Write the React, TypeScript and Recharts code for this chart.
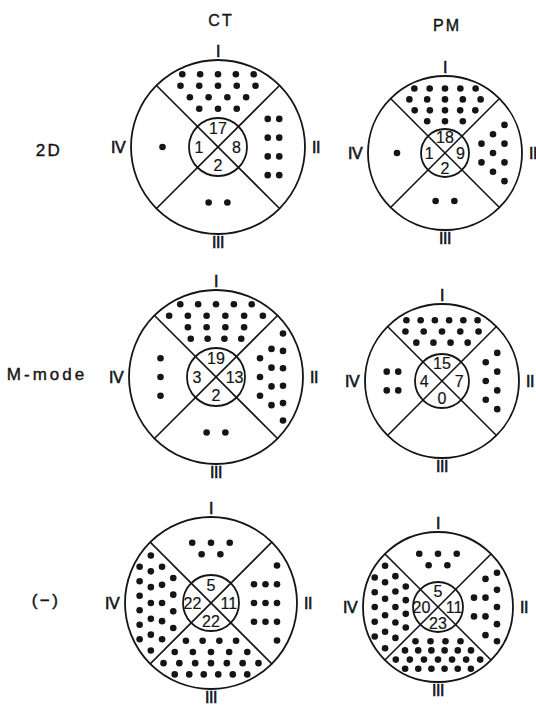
import { ScatterChart, Scatter, XAxis, YAxis, ReferenceDot, ReferenceLine } from "recharts"

const COLUMNS = ['CT', 'PM']
const ROWS = ['2D', 'M-mode', '(−)']
const SEGMENTS = ['I', 'II', 'III', 'IV']

// number of cases per segment, order I, II, III, IV
const CT_2D = [17, 8, 2, 1]
const PM_2D = [18, 9, 2, 1]
const CT_MMODE = [19, 13, 2, 3]
const PM_MMODE = [15, 7, 0, 4]
const CT_NONE = [5, 11, 22, 22]
const PM_NONE = [5, 11, 23, 20]

const COUNTS = [CT_2D, PM_2D, CT_MMODE, PM_MMODE, CT_NONE, PM_NONE]

// wheel geometry (pixels), same order as COUNTS
const WHEELS = [
  { cx: 218, cy: 147, R: 87, r: 29 },
  { cx: 445, cy: 153, R: 77, r: 24 },
  { cx: 216, cy: 377, R: 87, r: 29 },
  { cx: 442, cy: 381, R: 77, r: 27 },
  { cx: 211, cy: 603, R: 86, r: 28 },
  { cx: 438, cy: 607, R: 75, r: 25 },
]
const COLUMN_POS = [{ x: 221, y: 20 }, { x: 447, y: 25 }]
const ROW_POS = [{ x: 49, y: 150 }, { x: 47, y: 374 }, { x: 46, y: 600 }]

// outward direction of each segment: up, right, down, left
const DIRS = [[0, -1], [1, 0], [0, 1], [-1, 0]]

const W = 536
const H = 707
const INK = '#151515'
const FONT = "'Liberation Sans', Arial, sans-serif"

// spread n dots over one quarter ring, in rows across the outward direction
function sectorDots(n: number, R: number, r: number, ux: number, uy: number) {
  if (!n) return []
  const vx = -uy, vy = ux
  for (let f = 1; f > 0.4; f -= 0.025) {
    const dr = 11.5 * f, dl = 15 * f
    const lineM = 13 * f, edgeM = 12 * f
    const d0 = r + 8 * f, dEnd = R - 13 * f
    const half = (d: number) => Math.min(d - lineM, Math.sqrt(R * R - d * d) - edgeM)
    const used: { d: number; cap: number }[] = []
    let total = 0
    for (let d = d0; d <= dEnd + 0.01 && total < n; d += dr) {
      const w = half(d)
      if (w < 0) continue
      const cap = Math.floor((2 * w) / dl) + 1
      used.push({ d, cap })
      total += cap
    }
    if (total < n) continue
    const raw = used.map(u => (u.cap / total) * n)
    const ks = raw.map(Math.floor)
    let left = n - ks.reduce((a, b) => a + b, 0)
    const order = raw.map((v, i) => [v - Math.floor(v), i]).sort((a, b) => b[0] - a[0])
    for (let j = 0; left > 0; j++, left--) ks[order[j % order.length][1]]++
    const shift = (dEnd - used[used.length - 1].d) / 2
    const pts: { x: number; y: number }[] = []
    used.forEach((u, i) => {
      const k = ks[i]
      const d = u.d + shift
      const w = Math.max(half(d), 0)
      const s = k > 1 ? Math.min(dl * 1.25, (2 * w) / (k - 1)) : 0
      for (let j = 0; j < k; j++) {
        const t = (j - (k - 1) / 2) * s
        pts.push({ x: ux * d + vx * t, y: uy * d + vy * t })
      }
    })
    return pts
  }
  return []
}

const dots = COUNTS.flatMap((counts, w) => {
  const { cx, cy, R, r } = WHEELS[w]
  return counts.flatMap((n, s) =>
    sectorDots(n, R, r, DIRS[s][0], DIRS[s][1]).map(p => ({ x: cx + p.x, y: cy + p.y }))
  )
})

const label = (key: string, x: number, y: number, value: string, size = 16, spacing = 0, bold = 0.35) => (
  <ReferenceDot key={key} x={x} y={y} r={0} fill="none" stroke="none" ifOverflow="visible"
    label={{ value, position: 'center', fontSize: size, fill: INK, stroke: INK, strokeWidth: bold, letterSpacing: spacing, fontFamily: FONT }} />
)

export default function App() {
  const k = Math.SQRT1_2
  return (
    <div style={{ position: 'absolute', left: 0, top: 0, background: '#fff', fontFamily: FONT }}>
      <ScatterChart width={W} height={H} margin={{ top: 0, right: 0, bottom: 0, left: 0 }}>
        <XAxis type="number" dataKey="x" domain={[0, W]} hide allowDataOverflow />
        <YAxis type="number" dataKey="y" domain={[0, H]} reversed hide allowDataOverflow />

        {WHEELS.map((g, i) => [
          <ReferenceDot key={`o${i}`} x={g.cx} y={g.cy} r={g.R} fill="none" stroke={INK} strokeWidth={1.8} ifOverflow="visible" />,
          <ReferenceLine key={`a${i}`} ifOverflow="visible" stroke={INK} strokeWidth={1.6}
            segment={[{ x: g.cx - g.R * k, y: g.cy - g.R * k }, { x: g.cx + g.R * k, y: g.cy + g.R * k }]} />,
          <ReferenceLine key={`b${i}`} ifOverflow="visible" stroke={INK} strokeWidth={1.6}
            segment={[{ x: g.cx + g.R * k, y: g.cy - g.R * k }, { x: g.cx - g.R * k, y: g.cy + g.R * k }]} />,
          <ReferenceDot key={`c${i}`} x={g.cx} y={g.cy} r={g.r} fill="none" stroke={INK} strokeWidth={1.8} ifOverflow="visible" />,
        ])}

        {WHEELS.map((g, i) => {
          const outer = [[0, -g.R - 9], [g.R + 11, 0], [0, g.R + 8], [-g.R - 13, 0]]
          const inner = [[0, -0.64 * g.r], [0.64 * g.r, 0], [0, 0.64 * g.r], [-0.66 * g.r, 0]]
          return SEGMENTS.flatMap((name, s) => [
            label(`n${i}${s}`, g.cx + outer[s][0], g.cy + outer[s][1], name, 16, -0.5, 0.6),
            label(`v${i}${s}`, g.cx + inner[s][0], g.cy + inner[s][1], String(COUNTS[i][s]), 16, 0, 0.2),
          ])
        })}

        {COLUMNS.map((c, i) => label(`col${i}`, COLUMN_POS[i].x, COLUMN_POS[i].y, c, 16, 2, 0.4))}
        {ROWS.map((c, i) => label(`row${i}`, ROW_POS[i].x, ROW_POS[i].y, c, 17, i === 1 ? 3 : 2.5, 0.4))}

        <Scatter data={dots} isAnimationActive={false}
          shape={(p: any) => <circle cx={p.cx} cy={p.cy} r={3.3} fill={INK} />} />
      </ScatterChart>
    </div>
  )
}
